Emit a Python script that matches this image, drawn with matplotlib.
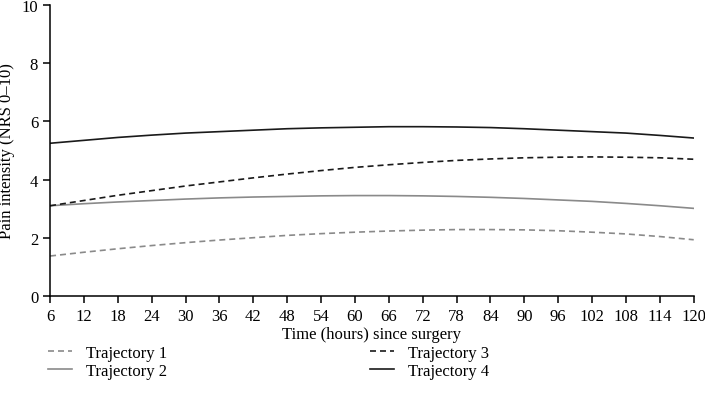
import matplotlib
matplotlib.use("Agg")
import matplotlib.pyplot as plt
import numpy as np

plt.rcParams['font.family'] = ['Liberation Serif', 'DejaVu Serif']

hours = [6, 12, 18, 24, 30, 36, 42, 48, 54, 60, 66, 72, 78, 84, 90, 96, 102, 108, 114, 120]
traj1 = [1.37, 1.50, 1.62, 1.73, 1.83, 1.92, 2.00, 2.08, 2.14, 2.19, 2.23, 2.26, 2.28, 2.28, 2.27, 2.24, 2.19, 2.13, 2.04, 1.93]
traj2 = [3.10, 3.17, 3.23, 3.28, 3.33, 3.37, 3.40, 3.42, 3.44, 3.45, 3.45, 3.44, 3.42, 3.39, 3.35, 3.30, 3.25, 3.18, 3.10, 3.01]
traj3 = [3.10, 3.28, 3.46, 3.62, 3.78, 3.92, 4.06, 4.19, 4.31, 4.42, 4.51, 4.59, 4.66, 4.71, 4.75, 4.77, 4.78, 4.77, 4.75, 4.70]
traj4 = [5.25, 5.35, 5.45, 5.53, 5.60, 5.65, 5.70, 5.75, 5.78, 5.80, 5.82, 5.82, 5.81, 5.79, 5.75, 5.70, 5.65, 5.60, 5.52, 5.43]
labels = ["Trajectory 1", "Trajectory 2", "Trajectory 3", "Trajectory 4"]

fig = plt.figure(figsize=(7.05, 4.14), dpi=100)
ax = fig.add_axes([0.071, 0.283, 0.913, 0.702])

gray = '#8a8a8a'
dash = (0, (3.6, 2.4))
ax.plot(hours, traj1, color=gray, lw=1.2, ls=dash, label=labels[0])
ax.plot(hours, traj2, color=gray, lw=1.2, ls='-', label=labels[1])
ax.plot(hours, traj3, color='#1a1a1a', lw=1.2, ls=dash, label=labels[2])
ax.plot(hours, traj4, color='#1a1a1a', lw=1.2, ls='-', label=labels[3])

ax.set_xlim(6, 120)
ax.set_ylim(0, 10)
ax.set_xticks(np.arange(6, 121, 6))
ax.set_yticks(np.arange(0, 11, 2))
for s in ['top', 'right']:
    ax.spines[s].set_visible(False)
for s in ['left', 'bottom']:
    ax.spines[s].set_linewidth(1.1)
ax.tick_params(direction='out', length=5, width=1.1, labelsize=12)
ax.set_xlabel("Time (hours) since surgery", fontsize=12, labelpad=2)
ax.set_ylabel("Pain intensity (NRS 0\u201310)", fontsize=12, labelpad=5)

fig.legend(loc='upper left', bbox_to_anchor=(0.047, 0.200), ncol=2, frameon=False,
           fontsize=12, handlelength=1.45, columnspacing=12.12, labelspacing=0.1,
           handletextpad=0.85)

fig.savefig("out.png", dpi=100)
